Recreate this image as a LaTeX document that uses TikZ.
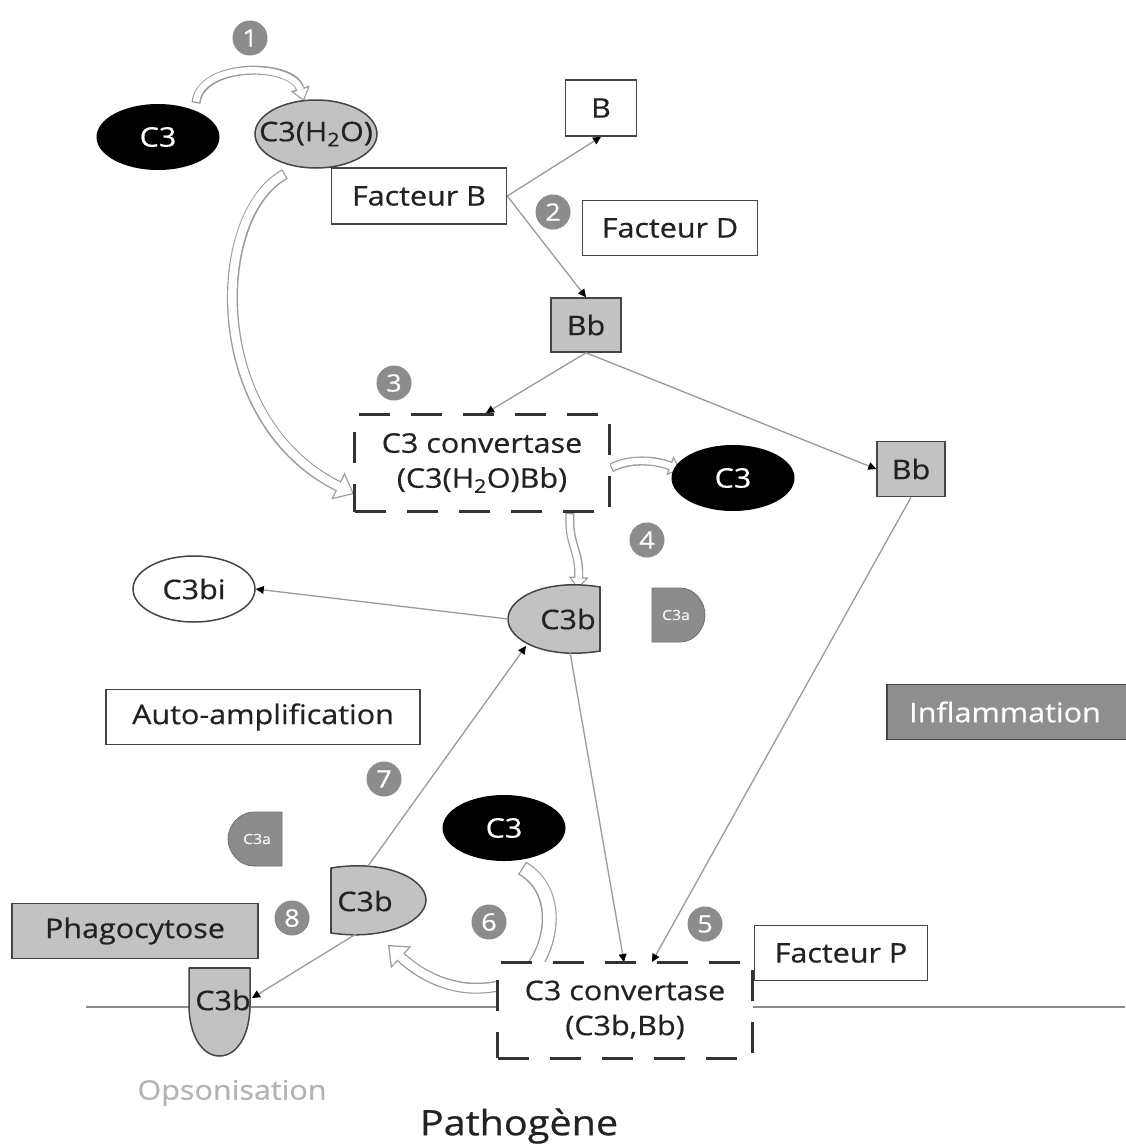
\documentclass[tikz,border=0pt]{standalone}
\usepackage{fontspec}
\setmainfont{Open Sans}[FakeStretch=1.13,FakeBold=0.6]
\usetikzlibrary{arrows.meta,shapes.geometric}
\definecolor{bdr}{HTML}{454545}
\definecolor{txt}{HTML}{222222}
\definecolor{lgfill}{HTML}{C2C2C2}
\definecolor{numgray}{HTML}{8C8C8C}
\definecolor{lin}{HTML}{9A9A9A}
\definecolor{hol}{HTML}{9A9A9A}
\definecolor{phfill}{HTML}{BFBFBF}
\definecolor{inflfill}{HTML}{8F8F8F}
\definecolor{dashc}{HTML}{333333}
\definecolor{opso}{HTML}{B3B3B3}
\begin{document}
\begin{tikzpicture}[x=1pt,y=-1pt,font=\fontsize{27}{32}\selectfont,
  box/.style={draw=bdr,line width=1.5pt,fill=white,inner sep=0pt,text=txt},
  gbox/.style={box,fill=lgfill},
  dbox/.style={draw=dashc,line width=3pt,dash pattern=on 31pt off 21pt,fill=white,inner sep=0pt,text=txt,align=center,font=\fontsize{27}{35}\selectfont},
  blk/.style={ellipse,fill=black,text=white,inner sep=0pt,minimum width=123pt,minimum height=66pt},
  num/.style={circle,fill=numgray,text=white,minimum size=35pt,inner sep=0pt,font=\fontsize{24}{24}\selectfont},
  thin/.style={draw=lin,line width=1.3pt,-{Triangle[width=8pt,length=8pt,line width=0pt,color=black]}},
  hollow/.style n args={6}{line width=#1,draw=hol,-{Triangle[width=#2,length=#3,line width=0pt]},
    postaction={draw=white,line width=#4,-{Triangle[width=#5,length=#6,line width=0pt]},shorten >=2pt,shorten <=1.3pt}},
  hollowband/.style={line width=15pt,draw=hol,postaction={draw=white,line width=12.4pt,shorten <=1.3pt}},
  piece/.style={fill=lgfill,draw=bdr,line width=1.5pt},
  smallpiece/.style={fill=numgray,draw=numgray!80!black,line width=0.8pt},
  c3alabel/.style={text=white!92!gray,font=\fontsize{14}{14}\selectfont,inner sep=0pt}
]
\useasboundingbox (0,0) rectangle (1125,1146);
\fill[white] (0,0) rectangle (1125,1146);

% membrane
\draw[line width=2pt,draw=lin!90!black] (86,1007) -- (1125,1007);

% hollow arrows
\draw[hollow={9pt}{20pt}{13pt}{6.4pt}{14.8pt}{9.6pt}] (196,103) .. controls (200,62) and (292,62) .. (304,101);
\draw[hollow={11pt}{30pt}{18pt}{8.4pt}{24.5pt}{14.7pt}] (285,174) .. controls (210,215) and (205,420) .. (354,494);
\draw[hollow={9pt}{20pt}{12pt}{6.4pt}{14.5pt}{8.7pt}] (570,513) .. controls (568,545) and (580,550) .. (578,589);
\draw[hollow={9pt}{20pt}{12pt}{6.4pt}{14.5pt}{8.7pt}] (611,468) .. controls (630,458) and (655,460) .. (681,470);
\draw[hollow={11pt}{30pt}{18pt}{8.4pt}{24.5pt}{14.7pt}] (498,986) .. controls (455,995) and (420,975) .. (388,945);
\draw[hollowband] (522,868) .. controls (560,890) and (555,945) .. (527,975);

% shapes (C3b, C3a)
\filldraw[piece] (600,587) .. controls (545,578) and (508,598) .. (508,619) .. controls (508,640) and (545,660) .. (600,651) -- cycle;
\draw[bdr,line width=2.2pt] (600,587) -- (600,651);
\filldraw[piece] (331,868) .. controls (386,859) and (426,879) .. (426,900) .. controls (426,921) and (386,941) .. (331,933) -- cycle;
\draw[bdr,line width=2.2pt] (331,868) -- (331,933);
\filldraw[piece] (189,968) -- (250,968) -- (250,1005) .. controls (250,1035) and (237,1056) .. (219.5,1056) .. controls (202,1056) and (189,1035) .. (189,1005) -- cycle;
\draw[bdr,line width=2.4pt] (189,968) -- (250,968);
\filldraw[smallpiece] (652,588) -- (680,588) .. controls (695,588) and (705,602) .. (705,615) .. controls (705,628) and (695,642) .. (680,642) -- (652,642) -- cycle;
\filldraw[smallpiece] (282,812) -- (254,812) .. controls (239,812) and (228,826) .. (228,839) .. controls (228,852) and (239,866) .. (254,866) -- (282,866) -- cycle;

\coordinate (c3b1w) at (508,619);
\coordinate (c3b1s) at (570,652);
\coordinate (c3b1sw) at (526,646);
\coordinate (c3b2n) at (368,866);
\coordinate (c3b2s) at (356,934);
\coordinate (c3b3e) at (252,998);
\coordinate (cv2a) at (624,962);
\coordinate (cv2b) at (652,962);

% nodes
\node[blk] (c3top) at (158,137) {\makebox[0pt]{C3}};
\node[ellipse,fill=lgfill,draw=bdr,line width=1.5pt,inner sep=0pt,minimum width=122pt,minimum height=68pt,text=txt] (c3h2o) at (316,134) {\makebox[0pt]{C3(H\textsubscript{2}O)}};
\node[box,minimum width=175pt,minimum height=56pt] (fb) at (419,196) {Facteur B};
\node[box,minimum width=71pt,minimum height=56pt] (b) at (601,108) {B};
\node[box,minimum width=175pt,minimum height=55pt] (fd) at (670,228) {Facteur D};
\node[gbox,minimum width=70pt,minimum height=54pt] (bb1) at (586,325) {Bb};
\node[dbox,minimum width=255pt,minimum height=97pt] (cv1) at (482,463) {C3 convertase\\(C3(H\textsubscript{2}O)Bb)};
\node[gbox,minimum width=68pt,minimum height=55pt] (bb2) at (911,469) {Bb};
\node[blk] (c3mid) at (733,478) {\makebox[0pt]{C3}};
\node[ellipse,fill=white,draw=bdr,line width=1.5pt,inner sep=0pt,minimum width=122pt,minimum height=66pt,text=txt] (c3bi) at (194,589) {\makebox[0pt]{C3bi}};
\node[text=txt,inner sep=0pt] (c3b1) at (568,619) {C3b};
\node[c3alabel] (c3a1) at (676,615) {C3a};
\node[box,minimum width=314pt,minimum height=55pt] (auto) at (263,717) {Auto-amplification};
\node[box,fill=inflfill,text=white,minimum width=240pt,minimum height=55pt] (infl) at (1007,712) {\hspace*{-4pt}Inflammation};
\node[blk] (c3low) at (504,828) {\makebox[0pt]{C3}};
\node[c3alabel] (c3a2) at (257,839) {C3a};
\node[text=txt,inner sep=0pt] (c3b2) at (365,901) {C3b};
\node[gbox,minimum width=246pt,minimum height=55pt] (phago) at (135,931) {Phagocytose};
\node[box,minimum width=173pt,minimum height=55pt] (fp) at (841,953) {Facteur P};
\node[text=txt,inner sep=0pt] (c3b3) at (223,1000) {C3b};
\node[text=opso,inner sep=0pt] (opso) at (232,1093) {Opsonisation};
\node[text=txt,inner sep=0pt,font=\fontsize{35}{40}\selectfont] (patho) at (519,1126) {Pathogène};

% thin arrows
\draw[thin] (fb.east) -- (b.south);
\draw[thin] (fb.east) -- (bb1.north);
\draw[thin] (bb1.south) -- ([xshift=4pt]cv1.north);
\draw[thin] (bb1.south) -- (bb2.west);
\draw[thin] (c3b1w) -- (c3bi.east);
\draw[thin] (c3b2n) -- (c3b1sw);
\draw[thin] (c3b2s) -- (c3b3e);
\draw[thin] (c3b1s) -- (cv2a);
\draw[thin] (bb2.south) -- (cv2b);

\node[dbox,minimum width=255pt,minimum height=96pt] (cv2) at (625,1010) {C3 convertase\\(C3b,Bb)};
\draw[-{Triangle[width=8pt,length=6pt,line width=0pt,color=black]},draw=none] ([yshift=-6pt]cv2a) -- (cv2a);
\draw[-{Triangle[width=8pt,length=6pt,line width=0pt,color=black]},draw=none] ([xshift=3pt,yshift=-6pt]cv2b) -- (cv2b);

% numbers
\node[num] (n1) at (250,38) {1};
\node[num] (n2) at (553,212) {2};
\node[num] (n3) at (394,383) {3};
\node[num] (n4) at (647,540) {4};
\node[num] (n5) at (705,924) {5};
\node[num] (n6) at (489,922) {6};
\node[num] (n7) at (384,779) {7};
\node[num] (n8) at (292,918) {8};
\end{tikzpicture}
\end{document}
